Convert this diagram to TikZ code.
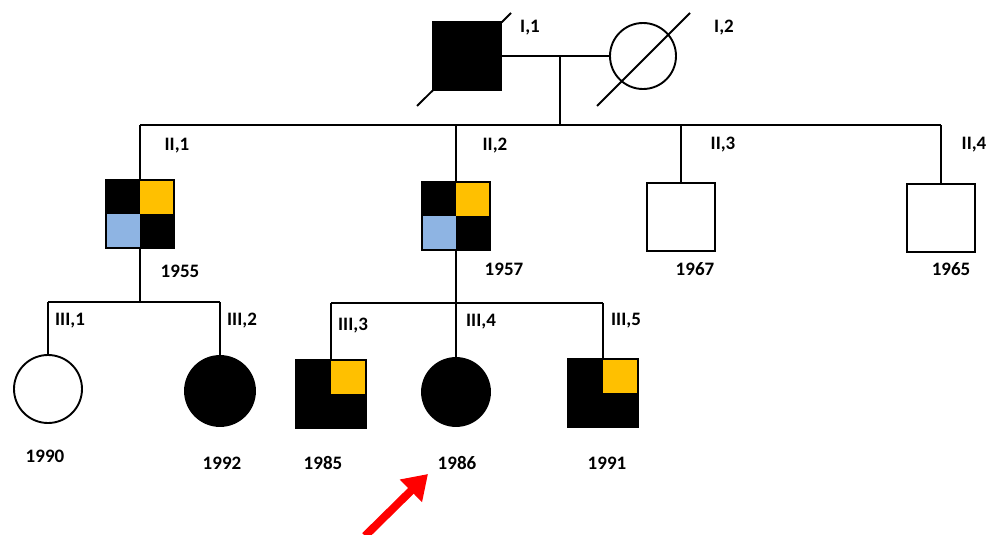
\documentclass[tikz,border=0pt]{standalone}
\usepackage{fontspec}
\setmainfont{Carlito}
\usetikzlibrary{arrows.meta,calc}
\definecolor{gold}{HTML}{FFC000}
\definecolor{skyb}{HTML}{8EB4E3}
\definecolor{redarrow}{HTML}{FF0000}
\begin{document}
\begin{tikzpicture}[x=1pt,y=-1pt,
  lw/.style={line width=1.9pt},
  male/.style={draw,lw,rectangle,minimum width=68pt,minimum height=68pt,inner sep=0pt,outer sep=0pt,fill=white},
  female/.style={draw,lw,circle,minimum size=68pt,inner sep=0pt,outer sep=0pt,fill=white},
  affected/.style={fill=black},
  fourq/.style={fill=black,path picture={
     \fill[gold] (path picture bounding box.center) rectangle (path picture bounding box.north east);
     \fill[skyb] (path picture bounding box.center) rectangle (path picture bounding box.south west);}},
  oneq/.style={fill=black,path picture={
     \fill[gold] (path picture bounding box.center) rectangle (path picture bounding box.north east);}},
  lbl/.style={font=\bfseries\fontsize{19}{22}\selectfont,inner sep=0pt,text=black},
  line/.style={lw}
]
\useasboundingbox (0,0) rectangle (990,535);

% Generation I
\node[male,affected] (I1) at (467,56) {};
\node[female,minimum size=66pt] (I2) at (643,56) {};
\draw[lw] ([shift={(-50,50)}]I1.center) -- ([shift={(44,-43)}]I1.center);
\draw[lw] ([shift={(-46,50)}]I2.center) -- ([shift={(47,-43)}]I2.center);
\node[lbl] (lI1) at (530,28) {I,1};
\node[lbl] (lI2) at (724,28) {I,2};

% Generation II
\node[male,fourq] (II1) at (140,214) {};
\node[male,fourq] (II2) at (456,216) {};
\node[male] (II3) at (681,217) {};
\node[male] (II4) at (941,218) {};

\coordinate (m) at (560,56);
\coordinate (sib1) at (560,125);
\draw[line] (I1.east) -- (I2.west);
\draw[line] (m) -- (sib1);
\draw[line] (II1.north |- sib1) -- (II4.north |- sib1);
\foreach \n in {II1,II2,II3,II4}{\draw[line] (\n.north |- sib1) -- (\n.north);}

\node[lbl] (lII1) at (177,146) {II,1};
\node[lbl] (lII2) at (495,146) {II,2};
\node[lbl] (lII3) at (723,145) {II,3};
\node[lbl] (lII4) at (974,145) {II,4};
\node[lbl] (yII1) at (180,271) {1955};
\node[lbl] (yII2) at (504,269) {1957};
\node[lbl] (yII3) at (695,269) {1967};
\node[lbl] (yII4) at (951,269) {1965};

% Generation III
\node[female] (III1) at (48,389) {};
\node[female,affected,minimum size=70pt] (III2) at (220,391) {};
\node[male,oneq,minimum width=70pt] (III3) at (331,394) {};
\node[female,affected] (III4) at (456,392) {};
\node[male,oneq,minimum width=70pt] (III5) at (603,393) {};

\coordinate (sib2) at (140,302);
\coordinate (sib3) at (456,303);
\draw[line] (II1.south) -- (II1.south |- sib2);
\draw[line] (III1.north |- sib2) -- (III2.north |- sib2);
\draw[line] (III1.north |- sib2) -- (III1.north);
\draw[line] (III2.north |- sib2) -- (III2.north);
\draw[line] (II2.south) -- (II2.south |- sib3);
\draw[line] (III3.north |- sib3) -- (III5.north |- sib3);
\foreach \n in {III3,III4,III5}{\draw[line] (\n.north |- sib3) -- (\n.north);}

\node[lbl] (lIII1) at (70,321) {III,1};
\node[lbl] (lIII2) at (242,321) {III,2};
\node[lbl] (lIII3) at (353,326) {III,3};
\node[lbl] (lIII4) at (481,322) {III,4};
\node[lbl] (lIII5) at (626,321) {III,5};
\node[lbl] (yIII1) at (45,456) {1990};
\node[lbl] (yIII2) at (222,463) {1992};
\node[lbl] (yIII3) at (323,463) {1985};
\node[lbl] (yIII4) at (457,463) {1986};
\node[lbl] (yIII5) at (607,463) {1991};

% Proband arrow
\coordinate (pa) at (365,536);
\coordinate (pb) at (428,474);
\draw[redarrow,line width=8pt,-{Triangle[length=24pt,width=30pt]}] (pa) -- (pb);
\end{tikzpicture}
\end{document}
